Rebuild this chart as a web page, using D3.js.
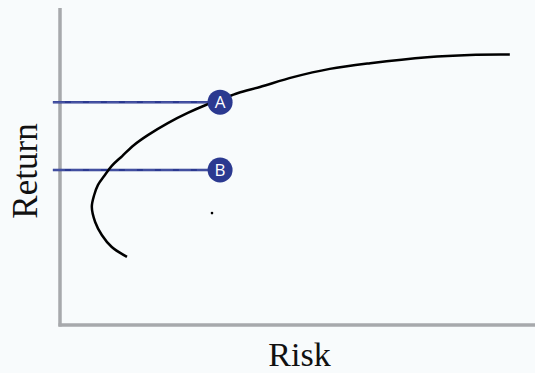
<!DOCTYPE html>
<html>
<head>
<meta charset="utf-8">
<script src="https://cdn.jsdelivr.net/npm/d3@7"></script>
<style>
  body { margin: 0; background: #f8fbfc; }
  svg { display: block; }
</style>
</head>
<body>
<div id="chart"></div>
<script>
// frontier curve (risk, return) on 0-100 scales
var frontierRisk = [14.1, 10.9, 8.8, 7.4, 6.7, 7.2, 8.0, 9.3, 10.9, 13.1, 15.6, 18.5, 22.7, 26.9, 30.7, 34.1, 37.5, 42.1, 49.1, 56.8, 65.3, 77.3, 86.3, 94.7]
var frontierReturn = [21.5, 24.6, 28.4, 32.5, 37.2, 41.0, 44.2, 47.0, 50.2, 53.3, 56.8, 59.9, 63.7, 66.9, 69.4, 71.3, 73.2, 75.1, 78.2, 80.8, 82.6, 84.5, 85.2, 85.3]

// labelled portfolios
var pointNames = ["A", "B"]
var pointRisk = [33.7, 33.7]
var pointReturn = [70.3, 48.9]

// small unlabelled dot
var dotRisk = [32.0]
var dotReturn = [35.3]

var axisLabels = ["Risk", "Return"]

var width = 535
var height = 373

var svg = d3.select("#chart")
  .append("svg")
  .attr("width", width)
  .attr("height", height)

svg.append("rect")
  .attr("width", width)
  .attr("height", height)
  .attr("fill", "#f8fbfc")

var x = d3.scaleLinear().domain([0, 100]).range([60, 535])
var y = d3.scaleLinear().domain([0, 100]).range([325, 8])

// axes
svg.append("line")
  .attr("x1", x(0)).attr("x2", x(0))
  .attr("y1", y(100)).attr("y2", y(0) + 1.5)
  .attr("stroke", "#a7a9ac")
  .attr("stroke-width", 3.5)

svg.append("line")
  .attr("x1", x(0) - 1.5).attr("x2", x(100))
  .attr("y1", y(0)).attr("y2", y(0))
  .attr("stroke", "#a7a9ac")
  .attr("stroke-width", 3.5)

// reference lines to the points
var points = pointNames.map(function(n, i) {
  return { name: n, risk: pointRisk[i], ret: pointReturn[i] }
})

svg.selectAll(".ref")
  .data(points)
  .enter()
  .append("line")
  .attr("class", "ref")
  .attr("x1", x(-1.5))
  .attr("x2", function(d) { return x(d.risk) })
  .attr("y1", function(d) { return y(d.ret) })
  .attr("y2", function(d) { return y(d.ret) })
  .attr("stroke", "#2b3990")
  .attr("stroke-width", 2.5)

svg.selectAll(".refdash")
  .data(points)
  .enter()
  .append("line")
  .attr("class", "refdash")
  .attr("x1", x(-1.5))
  .attr("x2", function(d) { return x(d.risk) - 12 })
  .attr("y1", function(d) { return y(d.ret) })
  .attr("y2", function(d) { return y(d.ret) })
  .attr("stroke", "#5a66b0")
  .attr("stroke-width", 1)
  .attr("stroke-dasharray", "12,6")

// frontier
var frontier = frontierRisk.map(function(r, i) { return [r, frontierReturn[i]] })

var line = d3.line()
  .x(function(d) { return x(d[0]) })
  .y(function(d) { return y(d[1]) })
  .curve(d3.curveCatmullRom)

svg.append("path")
  .datum(frontier)
  .attr("d", line)
  .attr("fill", "none")
  .attr("stroke", "#000")
  .attr("stroke-width", 2.5)

// dot
svg.selectAll(".dot")
  .data(dotRisk)
  .enter()
  .append("circle")
  .attr("class", "dot")
  .attr("cx", function(d) { return x(d) })
  .attr("cy", function(d, i) { return y(dotReturn[i]) })
  .attr("r", 1.3)
  .attr("fill", "#000")

// labelled circles
var pts = svg.selectAll(".pt")
  .data(points)
  .enter()
  .append("g")
  .attr("class", "pt")
  .attr("transform", function(d) { return "translate(" + x(d.risk) + "," + y(d.ret) + ")" })

pts.append("circle")
  .attr("r", 12.5)
  .attr("fill", "#2b3990")

pts.append("text")
  .text(function(d) { return d.name })
  .attr("text-anchor", "middle")
  .attr("dy", "0.36em")
  .attr("fill", "#fff")
  .style("font-family", "'Open Sans', sans-serif")
  .style("font-size", "17px")

// axis titles
svg.append("text")
  .text(axisLabels[0])
  .attr("x", 299.5)
  .attr("y", 366)
  .attr("text-anchor", "middle")
  .attr("fill", "#111")
  .style("font-family", "'Liberation Serif', serif")
  .style("font-size", "34px")

svg.append("text")
  .text(axisLabels[1])
  .attr("transform", "translate(37,171) rotate(-90)")
  .attr("text-anchor", "middle")
  .attr("fill", "#111")
  .style("font-family", "'Liberation Serif', serif")
  .style("font-size", "35px")
</script>
</body>
</html>
